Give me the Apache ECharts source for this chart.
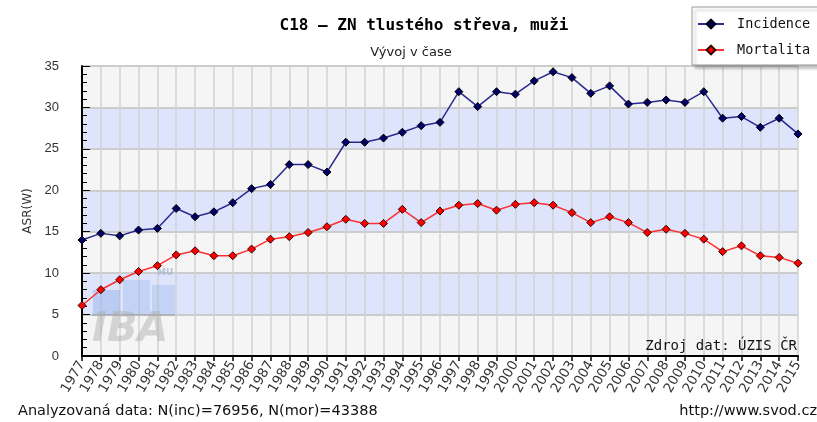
<!DOCTYPE html>
<html>
<head>
<meta charset="utf-8">
<script src="https://cdn.jsdelivr.net/npm/echarts@6/dist/echarts.min.js"></script>
<style>html,body{margin:0;padding:0;background:#fff}#c{width:817px;height:422px}</style>
</head>
<body>
<div id="c"></div>
<script>
var years = ['1977','1978','1979','1980','1981','1982','1983','1984','1985','1986','1987','1988','1989','1990','1991','1992','1993','1994','1995','1996','1997','1998','1999','2000','2001','2002','2003','2004','2005','2006','2007','2008','2009','2010','2011','2012','2013','2014','2015'];
var incidence = [14.0,14.8,14.5,15.2,15.4,17.8,16.8,17.4,18.5,20.2,20.7,23.1,23.1,22.2,25.8,25.8,26.3,27.0,27.8,28.2,31.9,30.1,31.9,31.6,33.2,34.3,33.6,31.7,32.6,30.4,30.6,30.9,30.6,31.9,28.7,28.9,27.6,28.7,26.8];
var mortalita = [6.1,8.0,9.2,10.2,10.9,12.2,12.7,12.1,12.1,12.9,14.1,14.4,14.9,15.6,16.5,16.0,16.0,17.7,16.1,17.5,18.2,18.4,17.6,18.3,18.5,18.2,17.3,16.1,16.8,16.1,14.9,15.3,14.8,14.1,12.6,13.3,12.1,11.9,11.2];
var yTicks = [0,5,10,15,20,25,30,35];

var chart = echarts.init(document.getElementById('c'), null, {renderer:'canvas'});
var mono = 'DejaVu Sans Mono';
chart.setOption({
  animation:false,
  backgroundColor:'#ffffff',
  title:[{
    text:'C18 – ZN tlustého střeva, muži',
    left:419, top:13, textAlign:'center',
    textStyle:{fontFamily:mono,fontWeight:'bold',fontSize:16,color:'#000'}
  },{
    text:'Vývoj v čase',
    left:406, top:41, textAlign:'center',
    textStyle:{fontFamily:'DejaVu Sans',fontWeight:'normal',fontSize:13,color:'#222'}
  }],
  legend:{
    orient:'vertical', left:692, top:7,
    padding:[10,14,8,5], itemGap:12, itemWidth:26, itemHeight:11,
    backgroundColor:'#fff', borderColor:'#999', borderWidth:1,
    shadowColor:'rgba(0,0,0,0.25)', shadowBlur:3, shadowOffsetX:3, shadowOffsetY:3,
    textStyle:{fontFamily:mono,fontSize:13.5,color:'#111',padding:[0,0,0,8]},
    data:['Incidence','Mortalita']
  },
  grid:{left:82,right:19,top:66,bottom:66,containLabel:false},
  xAxis:{
    type:'category', data:years, boundaryGap:false,
    axisLine:{lineStyle:{color:'#000',width:2}},
    axisTick:{show:true,inside:false,length:5,alignWithLabel:true,lineStyle:{color:'#000',width:1.5}},
    axisLabel:{rotate:60,interval:0,fontFamily:'DejaVu Sans',fontSize:13.5,color:'#333',margin:6},
    splitLine:{show:true,lineStyle:{color:'#d2d2d2',width:1.5}}
  },
  yAxis:{
    type:'value', min:yTicks[0], max:yTicks[yTicks.length-1], interval:5,
    name:'ASR(W)', nameLocation:'middle', nameGap:48, nameRotate:90,
    nameTextStyle:{fontFamily:'DejaVu Sans',fontSize:12,color:'#333'},
    axisLine:{show:true,lineStyle:{color:'#000',width:2}},
    axisTick:{show:true,inside:true,length:8,lineStyle:{color:'#000',width:1}},
    minorTick:{show:true,splitNumber:5,length:5,lineStyle:{color:'#000',width:1}},
    axisLabel:{fontFamily:'Liberation Sans',fontSize:13,color:'#333',margin:23},
    splitLine:{show:true,lineStyle:{color:'#cccccc',width:2}},
    splitArea:{show:true,areaStyle:{color:['#f5f5f5','#dde4fb']}}
  },
  graphic:[
    {type:'rect',z:1,shape:{x:93,y:290,width:27,height:25},style:{fill:'rgba(120,160,230,0.35)'}},
    {type:'rect',z:1,shape:{x:123,y:280,width:27,height:35},style:{fill:'rgba(120,160,230,0.25)'}},
    {type:'rect',z:1,shape:{x:152,y:285,width:23,height:30},style:{fill:'rgba(120,160,230,0.25)'}},
    {type:'rect',z:1,shape:{x:92,y:314,width:83,height:2},style:{fill:'rgba(150,150,150,0.4)'}},
    {type:'text',z:1,left:157,top:268,style:{text:'MU',font:'bold 9px DejaVu Sans',fill:'rgba(150,165,200,0.6)'}},
    {type:'text',z:1,left:92,top:311,style:{text:'IBA',font:'italic bold 40px DejaVu Sans',fill:'rgba(170,170,170,0.45)'}},
    {type:'text',z:3,right:20,top:339,style:{text:'Zdroj dat: ÚZIS ČR',font:'14px DejaVu Sans Mono',fill:'#111',textAlign:'right'}},
    {type:'text',z:3,left:18,top:404,style:{text:'Analyzovaná data: N(inc)=76956, N(mor)=43388',font:'14.5px DejaVu Sans',fill:'#111'}},
    {type:'text',z:3,right:0,top:404,style:{text:'http://www.svod.cz',font:'14.5px DejaVu Sans',fill:'#111',textAlign:'right'}}
  ],
  series:[{
    name:'Incidence', type:'line', data:incidence,
    symbol:'diamond', symbolSize:8, z:3,
    lineStyle:{color:'#2a2a90',width:1.5},
    itemStyle:{color:'#000066',borderColor:'#000',borderWidth:1}
  },{
    name:'Mortalita', type:'line', data:mortalita,
    symbol:'diamond', symbolSize:8, z:3,
    lineStyle:{color:'#ff3030',width:1.5},
    itemStyle:{color:'#ff0000',borderColor:'#330000',borderWidth:1}
  }]
});
</script>
</body>
</html>
